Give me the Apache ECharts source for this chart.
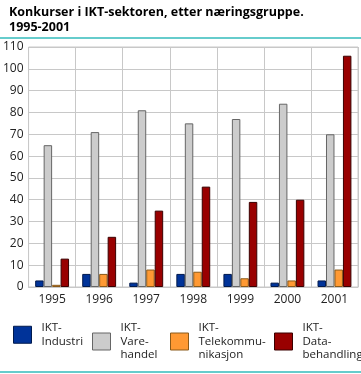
<!DOCTYPE html>
<html><head><meta charset="utf-8">
<script src="https://cdn.jsdelivr.net/npm/echarts@6/dist/echarts.min.js"></script>
<style>html,body{margin:0;padding:0;background:#fff}#c{width:361px;height:374px}</style>
</head><body><div id="c"></div>
<script>
const years = ['1995','1996','1997','1998','1999','2000','2001'];
const seriesNames = ['IKT-\nIndustri','IKT-\nVare-\nhandel','IKT-\nTelekommu-\nnikasjon','IKT-\nData-\nbehandling'];
const industri = [3, 6, 2, 6, 6, 2, 3];
const varehandel = [65, 71, 81, 75, 77, 84, 70];
const telekom = [1, 6, 8, 7, 4, 3, 8];
const databehandling = [13, 23, 35, 46, 39, 40, 106];
const yTicks = [0,10,20,30,40,50,60,70,80,90,100,110];

const colors = ['#003399','#cccccc','#ff9933','#990000'];
const borders = ['#001a4d','#666666','#8a5a1a','#3a0000'];
const values = [industri, varehandel, telekom, databehandling];
const FONT = '"Open Sans", "DejaVu Sans", sans-serif';

const chart = echarts.init(document.getElementById('c'), null, {renderer:'canvas'});
const legendLefts = [13, 92, 170, 274];
const lineCounts = [2,3,3,3];
const LH = 13.5;
chart.setOption({
  animation:false,
  textStyle:{fontFamily:FONT},
  title:{
    text:'Konkurser i IKT-sektoren, etter næringsgruppe.\n1995-2001',
    left:4, top:0,
    textStyle:{fontSize:12.5, fontWeight:'bold', color:'#000', lineHeight:15, fontFamily:FONT}
  },
  graphic:[
    {type:'rect', left:0, top:37, shape:{width:361, height:2}, style:{fill:'#66cccc'}},
    {type:'rect', left:0, top:371, shape:{width:361, height:2}, style:{fill:'#66cccc'}}
  ],
  legend: seriesNames.map((n,i)=>({
    left: legendLefts[i], top: 322, padding:0,
    itemWidth:18, itemHeight:17, itemGap:0,
    icon:'rect',
    selectedMode:false,
    data:[{name:n, textStyle:{padding:[-9 - (lineCounts[i]-1)*LH, 0, 0, 5]}}],
    textStyle:{fontSize:11.5, color:'#222', lineHeight:LH, fontFamily:FONT},
    itemStyle:{borderColor:borders[i], borderWidth:1}
  })),
  grid:{left:28, right:3, top:47, bottom:87, containLabel:false,
        show:true, borderColor:'#c8c8c8', borderWidth:1},
  xAxis:{
    type:'category', data:years,
    axisLine:{show:true, lineStyle:{color:'#c8c8c8'}},
    axisTick:{show:false},
    axisLabel:{fontSize:12, color:'#222', margin:7, fontFamily:FONT},
    splitLine:{show:true, lineStyle:{color:'#c8c8c8', width:1}}
  },
  yAxis:{
    type:'value', min:0, max:110, interval:10,
    axisLine:{show:false}, axisTick:{show:false},
    axisLabel:{fontSize:12, color:'#222', margin:5, fontFamily:FONT,
      formatter:v=>yTicks.includes(v)?String(v):''},
    splitLine:{lineStyle:{color:'#c8c8c8', width:1}}
  },
  series: seriesNames.map((n,i)=>({
    name:n, type:'bar', data:values[i],
    barGap:'0%', barCategoryGap:'28%',
    itemStyle:{color:colors[i], borderColor:borders[i], borderWidth:1}
  }))
});
</script></body></html>
